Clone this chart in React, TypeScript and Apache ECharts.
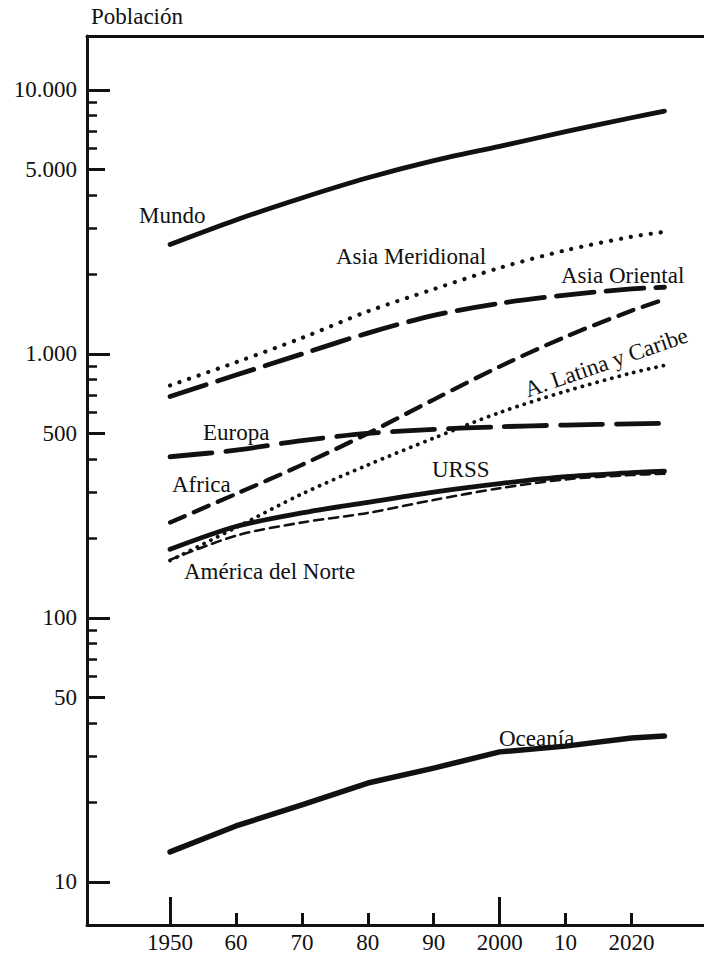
import React, { useEffect, useRef } from "react";
import * as echarts from "echarts";

// ---- data (population, millions) ----
const years = [1950, 1960, 1970, 1980, 1990, 2000, 2010, 2020, 2025];
const mundo = [2600, 3220, 3900, 4650, 5400, 6120, 6950, 7850, 8320];
const asiaMeridional = [760, 930, 1150, 1450, 1760, 2120, 2470, 2780, 2900];
const asiaOriental = [690, 832, 1000, 1200, 1400, 1555, 1672, 1763, 1790];
const africa = [230, 295, 380, 500, 672, 896, 1162, 1458, 1610];
const europa = [408, 432, 470, 500, 518, 530, 538, 544, 546];
const latina = [165, 220, 295, 380, 480, 600, 722, 847, 905];
const urss = [182, 222, 250, 274, 300, 323, 343, 355, 360];
const norteAmerica = [166, 205, 230, 250, 280, 310, 335, 348, 352];
const oceania = [13.0, 16.3, 19.6, 23.7, 27.0, 31.1, 32.7, 35.1, 35.7];

const xTickYears = [1950, 1960, 1970, 1980, 1990, 2000, 2010, 2020];
const xTickLabels = ["1950", "60", "70", "80", "90", "2000", "10", "2020"];
const xLongTickYears = [1950, 2000];
const xShortTickYears = [1960, 1970, 1980, 1990, 2010, 2020];

const yLabelValues = [10, 50, 100, 500, 1000, 5000, 10000];
const yLabelTexts = ["10", "50", "100", "500", "1.000", "5.000", "10.000"];
const yDecadeTicks = [10, 100, 1000, 10000];
const yFiveTicks = [50, 500, 5000];
const yMinorTicks = [
  20, 30, 40, 60, 70, 80, 90,
  200, 300, 400, 600, 700, 800, 900,
  2000, 3000, 4000, 6000, 7000, 8000, 9000,
];

const FONT = "Liberation Serif";
const FS = 23;
const INK = "#111";

const annotations = [
  { text: "Población", x: 91, y: 16 },
  { text: "Mundo", x: 139, y: 215 },
  { text: "Asia Meridional", x: 336, y: 256 },
  { text: "Asia Oriental", x: 561, y: 275 },
  { text: "Europa", x: 203, y: 432 },
  { text: "Africa", x: 172, y: 484 },
  { text: "URSS", x: 432, y: 469 },
  { text: "América del Norte", x: 184, y: 571 },
  { text: "Oceanía", x: 499, y: 738 },
];
const rotatedLabel = { text: "A. Latina y Caribe", x: 606, y: 362, rot: 19 };

const lg = (v: number) => Math.log10(v);

export default function App() {
  const ref = useRef<HTMLDivElement>(null);
  useEffect(() => {
    if (!ref.current) return;
    const chart = echarts.init(ref.current, null, { renderer: "svg" });
    const X_MIN = 1937.4;
    const X_MAX = 2031;
    const Y_MIN = 0.837;
    const Y_MAX = 4.2045;

    const mk = (
      name: string,
      vals: number[],
      width: number,
      type: any,
      smooth: number | boolean = 0.3
    ) => ({
      name,
      type: "line",
      data: years.map((y, i) => [y, lg(vals[i])]),
      showSymbol: false,
      symbol: "none",
      smooth,
      lineStyle: { color: INK, width, type, cap: "round", join: "round" },
      z: 3,
    });

    const yLogLabels = yLabelValues.map(lg);
    const baseY = {
      type: "value",
      min: Y_MIN,
      max: Y_MAX,
      position: "left",
      splitLine: { show: false },
    };
    const baseX = {
      type: "value",
      min: X_MIN,
      max: X_MAX,
      splitLine: { show: false },
    };

    chart.setOption({
      animation: false,
      backgroundColor: "#fff",
      grid: { left: 87, right: 0, top: 36, bottom: 33, containLabel: false },
      xAxis: [
        {
          ...baseX,
          position: "bottom",
          axisLine: { show: true, lineStyle: { color: INK, width: 3 } },
          axisTick: {
            show: true,
            inside: true,
            length: 12,
            customValues: xShortTickYears,
            lineStyle: { color: INK, width: 3 },
          },
          axisLabel: {
            show: true,
            customValues: xTickYears,
            margin: 6,
            color: INK,
            fontFamily: FONT,
            fontSize: FS,
            formatter: (v: number) => xTickLabels[xTickYears.indexOf(Math.round(v))] ?? "",
          },
        },
        {
          ...baseX,
          position: "bottom",
          axisLine: { show: false },
          axisTick: {
            show: true,
            inside: true,
            length: 28,
            customValues: xLongTickYears,
            lineStyle: { color: INK, width: 3 },
          },
          axisLabel: { show: false },
        },
        {
          ...baseX,
          position: "top",
          axisLine: { show: true, lineStyle: { color: INK, width: 3 } },
          axisTick: { show: false },
          axisLabel: { show: false },
        },
      ],
      yAxis: [
        {
          ...baseY,
          axisLine: { show: true, lineStyle: { color: INK, width: 3 } },
          axisTick: {
            show: true,
            inside: true,
            length: 23,
            customValues: yDecadeTicks.map(lg),
            lineStyle: { color: INK, width: 3 },
          },
          axisLabel: {
            show: true,
            customValues: yLogLabels,
            margin: 10,
            color: INK,
            fontFamily: FONT,
            fontSize: FS,
            formatter: (v: number) => {
              const i = yLogLabels.findIndex((l) => Math.abs(l - v) < 1e-6);
              return i >= 0 ? yLabelTexts[i] : "";
            },
          },
        },
        {
          ...baseY,
          axisLine: { show: false },
          axisTick: {
            show: true,
            inside: true,
            length: 18,
            customValues: yFiveTicks.map(lg),
            lineStyle: { color: INK, width: 3 },
          },
          axisLabel: { show: false },
        },
        {
          ...baseY,
          axisLine: { show: false },
          axisTick: {
            show: true,
            inside: true,
            length: 10,
            customValues: yMinorTicks.map(lg),
            lineStyle: { color: INK, width: 2.5 },
          },
          axisLabel: { show: false },
        },
      ],
      series: [
        mk("Mundo", mundo, 4.8, "solid"),
        mk("Asia Meridional", asiaMeridional, 4.2, [0.1, 10]),
        mk("Asia Oriental", asiaOriental, 4.8, [38, 12]),
        mk("Europa", europa, 4.8, [42, 14]),
        mk("Africa", africa, 4.3, [16, 10]),
        mk("A. Latina y Caribe", latina, 3.8, [0.1, 7.5]),
        mk("URSS", urss, 4.8, "solid"),
        mk("América del Norte", norteAmerica, 2.6, [9, 6]),
        mk("Oceanía", oceania, 5.5, "solid", false),
      ],
      graphic: [
        ...annotations.map((a) => ({
          type: "text",
          x: a.x,
          y: a.y,
          z: 10,
          style: {
            text: a.text,
            fill: INK,
            font: `${FS}px "${FONT}"`,
            align: "left",
            verticalAlign: "middle",
          },
        })),
        {
          type: "text",
          x: rotatedLabel.x,
          y: rotatedLabel.y,
          rotation: (rotatedLabel.rot * Math.PI) / 180,
          z: 10,
          style: {
            text: rotatedLabel.text,
            fill: INK,
            font: `${FS}px "${FONT}"`,
            align: "center",
            verticalAlign: "middle",
          },
        },
      ],
    });
    return () => chart.dispose();
  }, []);

  return (
    <div
      ref={ref}
      style={{ position: "fixed", left: 0, top: 0, width: 704, height: 958, background: "#fff" }}
    />
  );
}
